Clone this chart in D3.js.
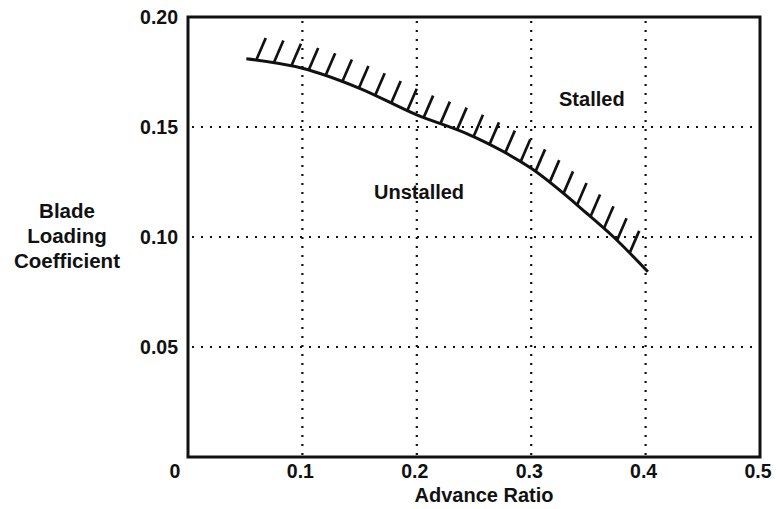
<!DOCTYPE html>
<html>
<head>
<meta charset="utf-8">
<script src="https://cdn.jsdelivr.net/npm/d3@7"></script>
<style>
  body { margin: 0; background: #fff; }
  text { font-family: "Liberation Sans", Arial, Helvetica, sans-serif; font-weight: bold; fill: #111; }
</style>
</head>
<body>
<svg id="chart" width="776" height="509"></svg>
<script>
// ---- data ----
const xTicks = [0, 0.1, 0.2, 0.3, 0.4, 0.5]
const yTicks = [0.05, 0.10, 0.15, 0.20]
const xGrid = [0.1, 0.2, 0.3, 0.4]
const yGrid = [0.05, 0.10, 0.15]

// stall boundary (advance ratio, blade loading coefficient)
const boundaryMu = [0.051, 0.1, 0.15, 0.2, 0.2436, 0.2524, 0.3, 0.3485, 0.372, 0.402]
const boundaryCt = [0.181, 0.1767, 0.1676, 0.1555, 0.147, 0.1449, 0.1312, 0.1108, 0.100, 0.0842]

const regionNames = ['Stalled', 'Unstalled']
const regionMu = [0.353, 0.202]
const regionCt = [0.1627, 0.1205]

const yTitle = ['Blade', 'Loading', 'Coefficient']
const xTitle = 'Advance Ratio'

// ---- layout ----
const svg = d3.select('#chart')
const plotLeft = 188, plotRight = 760, plotTop = 17, plotBottom = 457

const x = d3.scaleLinear().domain([0, 0.5]).range([plotLeft, plotRight])
const y = d3.scaleLinear().domain([0, 0.2]).range([plotBottom, plotTop])

// dotted grid
const grid = svg.append('g')
  .attr('stroke', '#111')
  .attr('stroke-width', 2.2)
  .attr('stroke-dasharray', '2 7')

grid.selectAll('line.v')
  .data(xGrid)
  .join('line')
    .attr('class', 'v')
    .attr('x1', d => x(d)).attr('x2', d => x(d))
    .attr('y1', plotTop + 4).attr('y2', plotBottom)

grid.selectAll('line.h')
  .data(yGrid)
  .join('line')
    .attr('class', 'h')
    .attr('x1', plotLeft + 4).attr('x2', plotRight)
    .attr('y1', d => y(d)).attr('y2', d => y(d))

// frame
svg.append('rect')
  .attr('x', plotLeft).attr('y', plotTop)
  .attr('width', plotRight - plotLeft).attr('height', plotBottom - plotTop)
  .attr('fill', 'none')
  .attr('stroke', '#111')
  .attr('stroke-width', 3)

// tick labels
svg.append('g')
  .selectAll('text')
  .data(xTicks)
  .join('text')
    .attr('x', d => d === 0 ? x(d) - 13 : x(d) - 2)
    .attr('y', 478)
    .attr('text-anchor', 'middle')
    .style('font-size', '19.5px')
    .text(d => d === 0 ? '0' : d3.format('.1f')(d))

svg.append('g')
  .selectAll('text')
  .data(yTicks)
  .join('text')
    .attr('x', plotLeft - 10)
    .attr('y', d => y(d) + 7)
    .attr('text-anchor', 'end')
    .style('font-size', '19.5px')
    .text(d => d3.format('.2f')(d))

// axis titles
svg.append('text')
  .attr('x', 484).attr('y', 502)
  .attr('text-anchor', 'middle')
  .style('font-size', '20px')
  .text(xTitle)

svg.append('g')
  .selectAll('text')
  .data(yTitle)
  .join('text')
    .attr('x', 67)
    .attr('y', (d, i) => 218 + i * 25)
    .attr('text-anchor', 'middle')
    .style('font-size', '20.5px')
    .text(d => d)

// boundary curve
const pts = boundaryMu.map((m, i) => [m, boundaryCt[i]])
const line = d3.line()
  .x(d => x(d[0]))
  .y(d => y(d[1]))
  .curve(d3.curveMonotoneX)

const boundary = svg.append('path')
  .datum(pts)
  .attr('d', line)
  .attr('fill', 'none')
  .attr('stroke', '#111')
  .attr('stroke-width', 3)

// hatching on the stalled side
const node = boundary.node()
const total = node.getTotalLength()
const hatchStep = 17.8, hatchDx = 9.5, hatchDy = -22
const hatchAt = d3.range(10, total - 12, hatchStep)

svg.append('g')
  .attr('stroke', '#111')
  .attr('stroke-width', 2.7)
  .selectAll('line')
  .data(hatchAt.map(l => node.getPointAtLength(l)))
  .join('line')
    .attr('x1', p => p.x).attr('y1', p => p.y)
    .attr('x2', p => p.x + hatchDx).attr('y2', p => p.y + hatchDy)

// region labels
svg.append('g')
  .selectAll('text')
  .data(regionNames)
  .join('text')
    .attr('x', (d, i) => x(regionMu[i]))
    .attr('y', (d, i) => y(regionCt[i]) + 7)
    .attr('text-anchor', 'middle')
    .style('font-size', '20px')
    .text(d => d)
</script>
</body>
</html>
